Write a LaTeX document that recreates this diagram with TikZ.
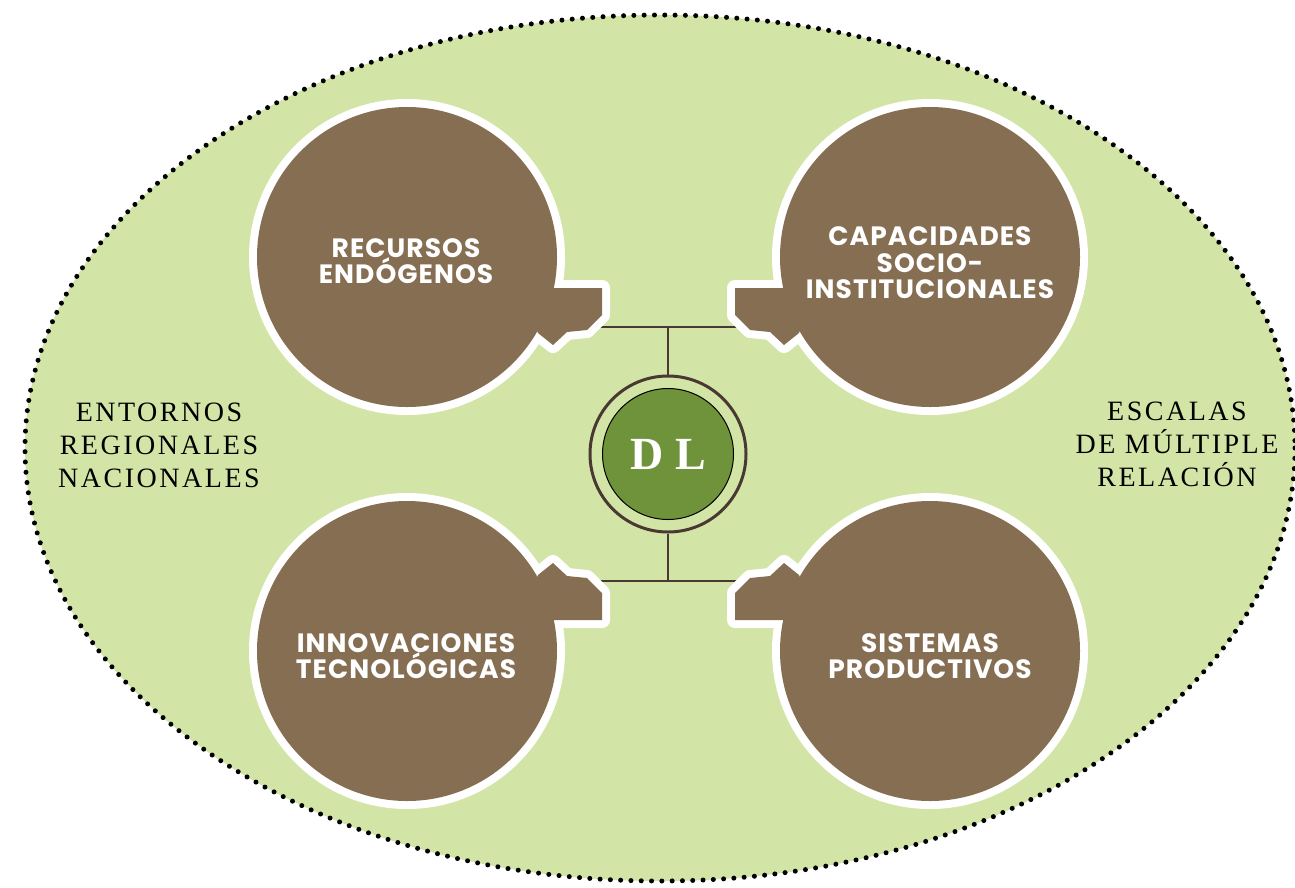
\documentclass[tikz,border=0pt]{standalone}
\usepackage{fontspec}
\setmainfont{Liberation Serif}
\newfontfamily\sidefont[LetterSpace=9]{Liberation Serif}
\newfontfamily\bubfont[LetterSpace=4]{Poppins}
\newfontfamily\dlfont{Liberation Serif}
\definecolor{bgreen}{RGB}{211,228,167}
\definecolor{bubbrown}{RGB}{134,110,83}
\definecolor{dlgreen}{RGB}{111,147,58}
\definecolor{linecol}{RGB}{74,57,50}
\newcommand\mybubble[1]{%
\begin{scope}[#1]
\draw[white,line width=16,line join=round] (407,257) circle[radius=150];
\draw[white,line width=16,line join=round] (520,288) -- (602,288) -- (602,315) -- (587,330) -- (567,332) -- (553,345) -- (538,333) -- cycle;
\fill[bubbrown] (407,257) circle[radius=150];
\fill[bubbrown] (520,288) -- (602,288) -- (602,315) -- (587,330) -- (567,332) -- (553,345) -- (538,333) -- cycle;
\end{scope}}
\begin{document}
\begin{tikzpicture}[x=1pt,y=-1pt,
  outer/.style={fill=bgreen,draw=black,line width=5,dash pattern=on 0pt off 10.3pt,line cap=round},
  conn/.style={draw=linecol,line width=2.6},
  btext/.style={text=white,align=center,font=\bubfont\bfseries\fontsize{26.5}{26.5}\selectfont,inner sep=0},
  stext/.style={text=black,align=center,font=\sidefont\fontsize{28}{33}\selectfont,inner sep=0}]
\useasboundingbox (0,0) rectangle (1295,887);
\clip (0,0) rectangle (1295,887);
\draw[outer] (660,448) ellipse [x radius=635, y radius=433];
% connectors
\coordinate (jtl) at (592,327);
\coordinate (jtr) at (745,327);
\coordinate (jt) at (668,327);
\coordinate (jbl) at (592,581);
\coordinate (jbr) at (745,581);
\coordinate (jb) at (668,581);
\node[circle,draw=linecol,line width=3,fill=bgreen,minimum size=156,inner sep=0] (dl) at (668,454) {};
\draw[conn] (jtl) -- (jtr);
\draw[conn] (jbl) -- (jbr);
\draw[conn] (jt) -- (dl.north);
\draw[conn] (jb) -- (dl.south);
\node[circle,draw=black,line width=1,fill=dlgreen,minimum size=131,inner sep=0,text=white,font=\dlfont\bfseries\fontsize{46}{50}\selectfont] (dlin) at (668,454) {D L};
% bubbles
\mybubble{}
\mybubble{shift={(1337,0)},xscale=-1}
\mybubble{shift={(0,908)},yscale=-1}
\mybubble{shift={(1337,908)},xscale=-1,yscale=-1}
\node[btext] (rec) at (406,261) {RECURSOS\\ENDÓGENOS};
\node[btext] (cap) at (930,263) {CAPACIDADES\\SOCIO-\\INSTITUCIONALES};
\node[btext] (inn) at (406,656) {INNOVACIONES\\TECNOLÓGICAS};
\node[btext] (sis) at (930,656) {SISTEMAS\\PRODUCTIVOS};
\node[stext] (ent) at (159,445) {ENTORNOS\\REGIONALES\\NACIONALES};
\node[stext] (esc) at (1177,444) {ESCALAS\\DE MÚLTIPLE\\RELACIÓN};
\end{tikzpicture}
\end{document}
